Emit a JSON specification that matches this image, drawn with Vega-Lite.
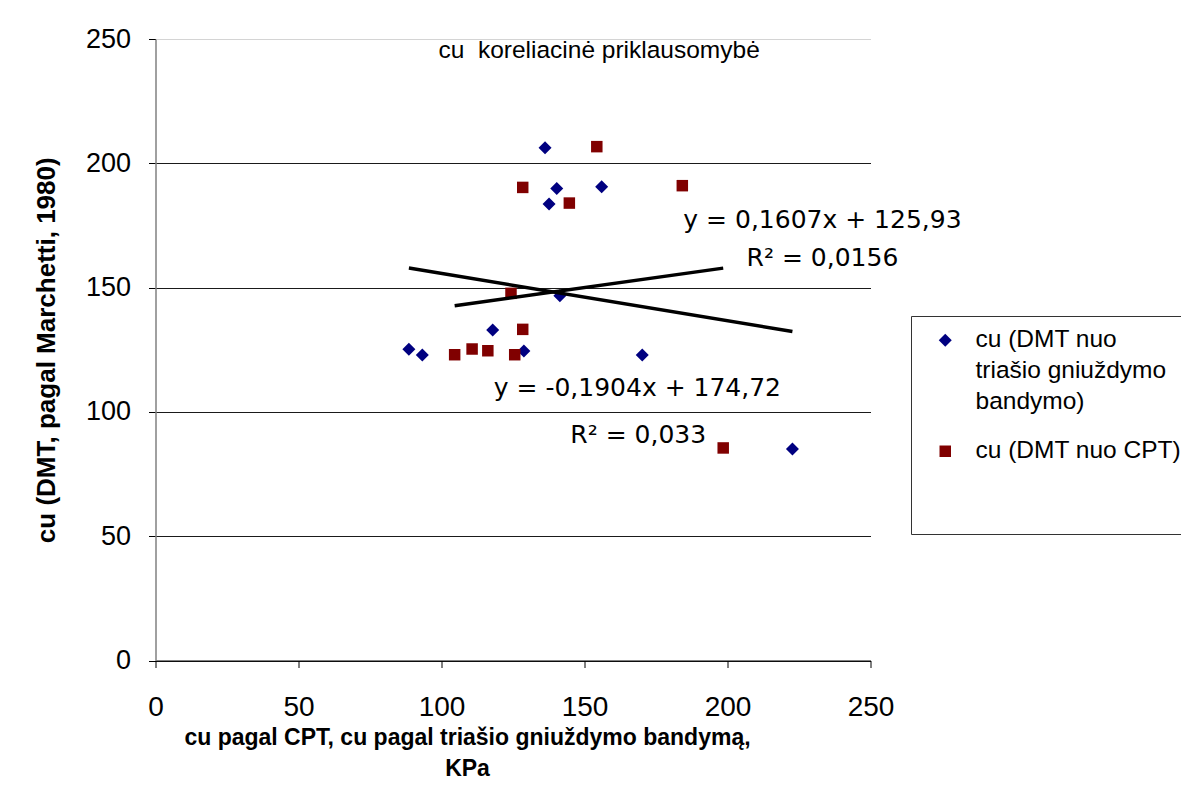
{
  "$schema": "https://vega.github.io/schema/vega-lite/v6.json",
  "width": 715,
  "height": 621.5,
  "autosize": {"type": "none"},
  "padding": {"left": 155.5, "top": 39, "right": 310.5, "bottom": 124.5},
  "background": "white",
  "config": {
    "view": {"stroke": null},
    "font": "Liberation Sans",
    "axis": {"labelColor": "#000", "titleColor": "#000"},
    "style": {"guide-label": {"lineHeight": 31}}
  },
  "datasets": {
    "points": [
      {"series": "cu (DMT nuo triašio gniuždymo bandymo)", "cpt": 136.2, "dmt": 206.3},
      {"series": "cu (DMT nuo triašio gniuždymo bandymo)", "cpt": 140.3, "dmt": 189.9},
      {"series": "cu (DMT nuo triašio gniuždymo bandymo)", "cpt": 137.6, "dmt": 183.6},
      {"series": "cu (DMT nuo triašio gniuždymo bandymo)", "cpt": 156.0, "dmt": 190.6},
      {"series": "cu (DMT nuo triašio gniuždymo bandymo)", "cpt": 141.4, "dmt": 146.7},
      {"series": "cu (DMT nuo triašio gniuždymo bandymo)", "cpt": 117.9, "dmt": 132.9},
      {"series": "cu (DMT nuo triašio gniuždymo bandymo)", "cpt": 88.6, "dmt": 125.2},
      {"series": "cu (DMT nuo triašio gniuždymo bandymo)", "cpt": 93.3, "dmt": 122.9},
      {"series": "cu (DMT nuo triašio gniuždymo bandymo)", "cpt": 128.8, "dmt": 124.5},
      {"series": "cu (DMT nuo triašio gniuždymo bandymo)", "cpt": 170.2, "dmt": 122.9},
      {"series": "cu (DMT nuo triašio gniuždymo bandymo)", "cpt": 222.7, "dmt": 85.1},
      {"series": "cu (DMT nuo CPT)", "cpt": 154.3, "dmt": 206.7},
      {"series": "cu (DMT nuo CPT)", "cpt": 128.4, "dmt": 190.3},
      {"series": "cu (DMT nuo CPT)", "cpt": 144.7, "dmt": 184.0},
      {"series": "cu (DMT nuo CPT)", "cpt": 184.2, "dmt": 191.0},
      {"series": "cu (DMT nuo CPT)", "cpt": 124.3, "dmt": 147.7},
      {"series": "cu (DMT nuo CPT)", "cpt": 128.4, "dmt": 133.2},
      {"series": "cu (DMT nuo CPT)", "cpt": 104.6, "dmt": 123.0},
      {"series": "cu (DMT nuo CPT)", "cpt": 110.7, "dmt": 125.3},
      {"series": "cu (DMT nuo CPT)", "cpt": 116.2, "dmt": 124.6},
      {"series": "cu (DMT nuo CPT)", "cpt": 125.6, "dmt": 123.0},
      {"series": "cu (DMT nuo CPT)", "cpt": 198.5, "dmt": 85.5}
    ],
    "trend": [
      {"fit": "y = -0,1904x + 174,72", "cpt": 88.6, "dmt": 157.85},
      {"fit": "y = -0,1904x + 174,72", "cpt": 222.7, "dmt": 132.32},
      {"fit": "y = 0,1607x + 125,93", "cpt": 104.6, "dmt": 142.74},
      {"fit": "y = 0,1607x + 125,93", "cpt": 198.5, "dmt": 157.83}
    ]
  },
  "layer": [
    {
      "data": {"name": "points"},
      "mark": {"type": "point", "filled": true, "opacity": 1, "strokeWidth": 0},
      "encoding": {
        "x": {
          "field": "cpt",
          "type": "quantitative",
          "scale": {"domain": [0, 250], "nice": false},
          "axis": {
            "values": [0, 50, 100, 150, 200, 250],
            "title": ["cu pagal CPT, cu pagal triašio gniuždymo bandymą,", "KPa"],
            "grid": false,
            "domainColor": "#000",
            "domainWidth": 1,
            "tickColor": "#000",
            "tickSize": 7,
            "labelFont": "Liberation Sans",
            "labelFontSize": 28,
            "labelPadding": 26,
            "labelFlush": false,
            "labelOverlap": false,
            "titleFont": "Liberation Sans",
            "titleFontWeight": "bold",
            "titleFontSize": 23,
            "titleLineHeight": 31,
            "titleX": 311.5,
            "titleY": 66,
            "titleAlign": "center",
            "titleBaseline": "top"
          }
        },
        "y": {
          "field": "dmt",
          "type": "quantitative",
          "scale": {"domain": [0, 250], "nice": false},
          "axis": {
            "values": [0, 50, 100, 150, 200, 250],
            "title": "cu (DMT, pagal Marchetti, 1980)",
            "grid": true,
            "gridColor": {"condition": {"test": "datum.value === 250", "value": "#d4d4d4"}, "value": "#1a1a1a"},
            "gridWidth": 1,
            "domainColor": "#808080",
            "domainWidth": 1.5,
            "tickColor": "#000",
            "tickSize": 7,
            "labelFont": "Liberation Sans",
            "labelFontSize": 27,
            "labelPadding": 18,
            "labelFlush": false,
            "labelOverlap": false,
            "titleFont": "Liberation Sans",
            "titleFontWeight": "bold",
            "titleFontSize": 26,
            "titlePadding": 26
          }
        },
        "color": {
          "field": "series",
          "type": "nominal",
          "scale": {
            "domain": ["cu (DMT nuo triašio gniuždymo bandymo)", "cu (DMT nuo CPT)"],
            "range": ["#000080", "#800000"]
          },
          "legend": {
            "orient": "none",
            "legendX": 755.5,
            "legendY": 277,
            "title": " ",
            "titleOrient": "bottom",
            "titleFontSize": 20,
            "titlePadding": 39,
            "padding": 12,
            "strokeColor": "#333",
            "symbolSize": 110,
            "symbolOffset": 10,
            "symbolStrokeWidth": 0,
            "labelOffset": 18,
            "labelFont": "Liberation Sans",
            "labelFontSize": 24.5,
            "labelColor": "#000",
            "labelLimit": 400,
            "labelBaseline": "middle",
            "rowPadding": 24,
            "labelExpr": "datum.label == 'cu (DMT nuo triašio gniuždymo bandymo)' ? ['cu (DMT nuo', 'triašio gniuždymo', 'bandymo)'] : datum.label"
          }
        },
        "shape": {
          "field": "series",
          "type": "nominal",
          "scale": {
            "domain": ["cu (DMT nuo triašio gniuždymo bandymo)", "cu (DMT nuo CPT)"],
            "range": ["diamond", "square"]
          },
          "legend": {
            "orient": "none",
            "legendX": 755.5,
            "legendY": 277,
            "title": " ",
            "titleOrient": "bottom",
            "titleFontSize": 20,
            "titlePadding": 39,
            "padding": 12,
            "strokeColor": "#333",
            "symbolSize": 110,
            "symbolOffset": 10,
            "symbolStrokeWidth": 0,
            "labelOffset": 18,
            "labelFont": "Liberation Sans",
            "labelFontSize": 24.5,
            "labelColor": "#000",
            "labelLimit": 400,
            "labelBaseline": "middle",
            "rowPadding": 24,
            "labelExpr": "datum.label == 'cu (DMT nuo triašio gniuždymo bandymo)' ? ['cu (DMT nuo', 'triašio gniuždymo', 'bandymo)'] : datum.label"
          }
        },
        "size": {
          "field": "series",
          "type": "ordinal",
          "scale": {
            "domain": ["cu (DMT nuo triašio gniuždymo bandymo)", "cu (DMT nuo CPT)"],
            "range": [169, 132]
          },
          "legend": null
        }
      }
    },
    {
      "data": {"name": "trend"},
      "mark": {"type": "line", "color": "#000", "strokeWidth": 3.5},
      "encoding": {
        "x": {"field": "cpt", "type": "quantitative"},
        "y": {"field": "dmt", "type": "quantitative"},
        "detail": {"field": "fit"}
      }
    },
    {
      "data": {"values": [{}]},
      "mark": {"type": "text", "font": "Liberation Sans", "fontSize": 24.5, "align": "center", "baseline": "middle", "color": "#000"},
      "encoding": {
        "x": {"datum": 155.1, "type": "quantitative"},
        "y": {"datum": 245.3, "type": "quantitative"},
        "text": {"value": "cu \u00a0koreliacinė priklausomybė"}
      }
    },
    {
      "data": {"values": [{}]},
      "mark": {"type": "text", "font": "DejaVu Sans", "fontSize": 25, "align": "center", "baseline": "middle", "color": "#000"},
      "encoding": {
        "x": {"datum": 233.2, "type": "quantitative"},
        "y": {"datum": 177.2, "type": "quantitative"},
        "text": {"value": "y = 0,1607x + 125,93"}
      }
    },
    {
      "data": {"values": [{}]},
      "mark": {"type": "text", "font": "DejaVu Sans", "fontSize": 25, "align": "center", "baseline": "middle", "color": "#000"},
      "encoding": {
        "x": {"datum": 233.2, "type": "quantitative"},
        "y": {"datum": 161.9, "type": "quantitative"},
        "text": {"value": "R² = 0,0156"}
      }
    },
    {
      "data": {"values": [{}]},
      "mark": {"type": "text", "font": "DejaVu Sans", "fontSize": 25, "align": "center", "baseline": "middle", "color": "#000"},
      "encoding": {
        "x": {"datum": 168.5, "type": "quantitative"},
        "y": {"datum": 109.6, "type": "quantitative"},
        "text": {"value": "y = -0,1904x + 174,72"}
      }
    },
    {
      "data": {"values": [{}]},
      "mark": {"type": "text", "font": "DejaVu Sans", "fontSize": 25, "align": "center", "baseline": "middle", "color": "#000"},
      "encoding": {
        "x": {"datum": 168.8, "type": "quantitative"},
        "y": {"datum": 90.7, "type": "quantitative"},
        "text": {"value": "R² = 0,033"}
      }
    }
  ]
}
